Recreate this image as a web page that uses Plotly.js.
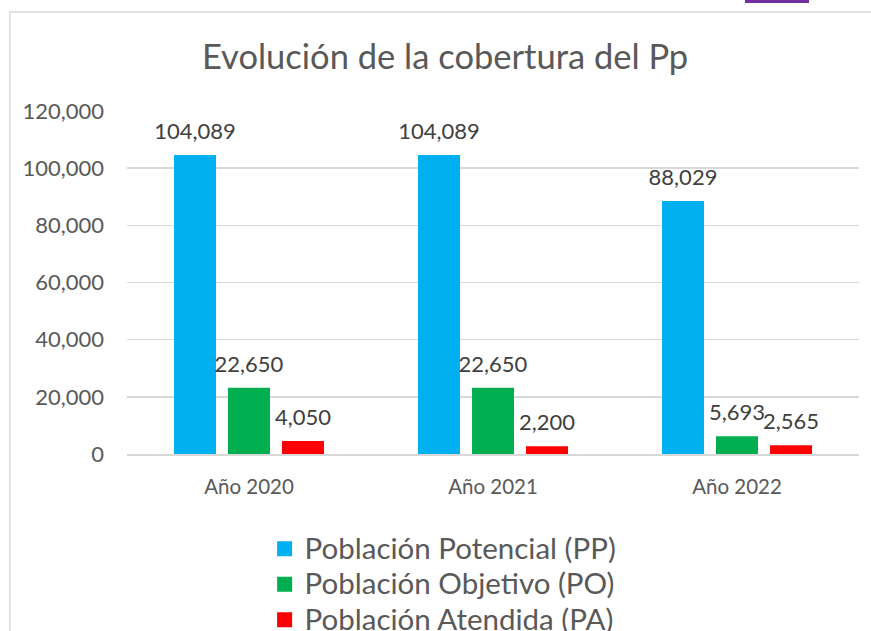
<!DOCTYPE html>
<html>
<head>
<meta charset="utf-8">
<script src="https://cdn.plot.ly/plotly-3.0.1.min.js"></script>
<style>html,body{margin:0;padding:0;background:#fff;}#chart{width:871px;height:631px;}</style>
</head>
<body>
<div id="chart"></div>
<script>
const categories = ["Año 2020", "Año 2021", "Año 2022"];
const seriesNames = ["Población Potencial (PP)", "Población Objetivo (PO)", "Población Atendida (PA)"];
const valuesPP = [104089, 104089, 88029];
const valuesPO = [22650, 22650, 5693];
const valuesPA = [4050, 2200, 2565];
const colors = ["#00B0F0", "#00B050", "#FF0000"];
const yTickVals = [0, 20000, 40000, 60000, 80000, 100000, 120000];

const FONT = "Lato, 'Open Sans', sans-serif";
const seriesValues = [valuesPP, valuesPO, valuesPA];

const traces = seriesValues.map((vals, i) => ({
  type: "bar",
  name: "<span style='font-size:29.5px'>" + seriesNames[i] + "</span>",
  x: categories,
  y: vals,
  marker: {color: colors[i], line: {color: colors[i], width: 3}},
  text: vals.map(v => v.toLocaleString("en-US")),
  textposition: "outside",
  constraintext: "none",
  texttemplate: "<span style='font-size:22px'>%{text}</span><br> ",
  textfont: {family: FONT, size: 9.5, color: "#404040"},
  cliponaxis: false,
  hoverinfo: "x+y"
}));

const layout = {
  width: 871,
  height: 631,
  margin: {l: 127, r: 12, t: 111, b: 177, autoexpand: false},
  paper_bgcolor: "#ffffff",
  plot_bgcolor: "#ffffff",
  font: {family: FONT, color: "#595959"},
  title: {
    text: "Evolución de la cobertura del Pp",
    font: {family: FONT, size: 34.5, color: "#595959"},
    x: 0.511, xanchor: "center",
    y: 0.91, yanchor: "middle"
  },
  barmode: "group",
  bargap: 0.336,
  bargroupgap: 0.278,
  xaxis: {
    type: "category",
    showgrid: false,
    showline: true,
    linecolor: "#d9d9d9",
    linewidth: 1.5,
    ticks: "",
    tickfont: {family: FONT, size: 20.5, color: "#595959"},
    ticklabelstandoff: 14
  },
  yaxis: {
    range: [0, 120000],
    tickvals: yTickVals,
    tickformat: ",",
    showgrid: true,
    gridcolor: "#d9d9d9",
    gridwidth: 1.5,
    zeroline: false,
    showline: false,
    ticks: "",
    tickfont: {family: FONT, size: 22, color: "#595959"},
    ticklabelstandoff: 22
  },
  legend: {
    orientation: "v",
    x: 0.188, xanchor: "left",
    y: -0.21, yanchor: "top",
    font: {family: FONT, size: 25, color: "#595959"},
    itemwidth: 30,
    tracegroupgap: 0,
    bgcolor: "rgba(0,0,0,0)"
  },
  shapes: [
    {type: "rect", xref: "paper", yref: "paper", x0: -0.16, x1: 1.1, y0: -1, y1: 1.2886,
     line: {color: "#d9d9d9", width: 1.5}, fillcolor: "rgba(0,0,0,0)", layer: "below"},
    {type: "rect", xref: "paper", yref: "paper", x0: (745-127)/732, x1: (809-127)/732, y0: 451/343, y1: 456/343,
     line: {width: 0}, fillcolor: "#7030A0", layer: "above"}
  ]
};

Plotly.newPlot("chart", traces, layout, {displayModeBar: false, staticPlot: true});
</script>
</body>
</html>
